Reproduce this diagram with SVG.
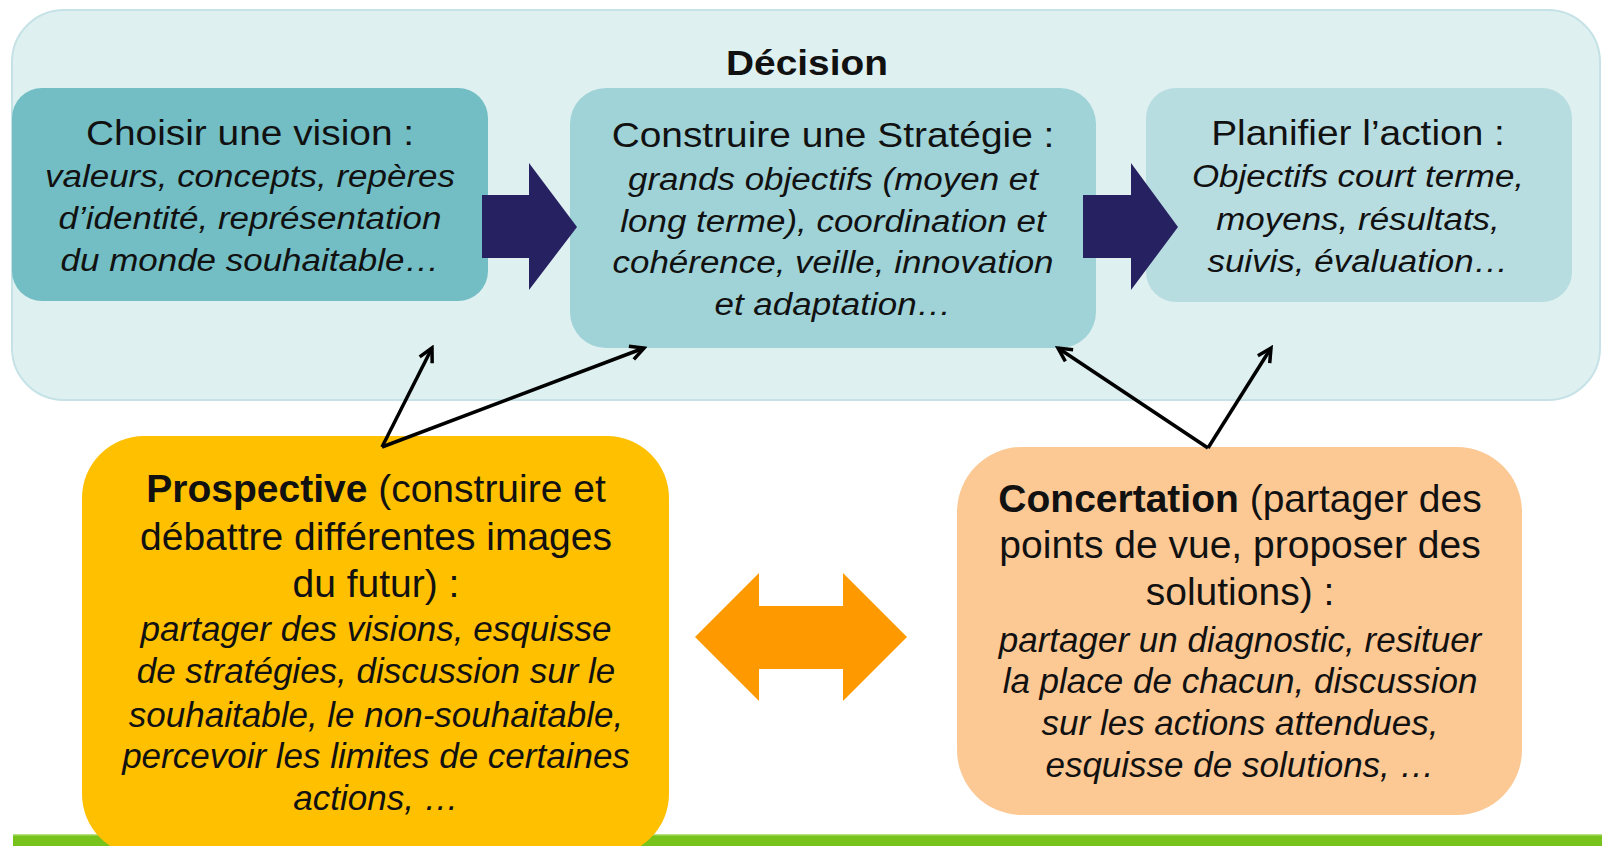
<svg xmlns="http://www.w3.org/2000/svg" width="1602" height="846" viewBox="0 0 1602 846">
<defs>
<style>
.t{font-family:"Liberation Sans",Arial,sans-serif;fill:#111;text-anchor:middle}
.h{font-size:35px}
.i{font-size:31.5px;font-style:italic}
.bh{font-size:39px}
.bi{font-size:35px;font-style:italic}
.b{font-weight:bold}
.ln{stroke:#000;stroke-width:3.5;fill:none}
</style>
<marker id="ah" viewBox="0 0 18 18" markerWidth="18" markerHeight="18" markerUnits="userSpaceOnUse" refX="15" refY="9" orient="auto">
<path d="M1.5,2 L15,9 L1.5,16" fill="none" stroke="#000" stroke-width="3.5"/>
</marker>
</defs>
<rect width="1602" height="846" fill="#fff"/>
<rect id="greenbar" x="13" y="834" width="1589" height="12" fill="#77c21b"/>
<rect x="13" y="834" width="1589" height="1.5" fill="#b5df80"/>

<g id="decision">
<rect x="12" y="10" width="1588" height="390" rx="52" fill="#dff0f0" stroke="#c5e2e6" stroke-width="2"/>
<g transform="translate(807 0) scale(1.11 1)"><text class="t h b" x="0" y="75">Décision</text></g>
</g>

<g id="choisir">
<rect x="12" y="88" width="476" height="213" rx="30" fill="#72bec4"/>
<g transform="translate(250 0) scale(1.11 1)">
<text class="t h" x="0" y="145">Choisir une vision :</text>
<text class="t i" x="0" y="187">valeurs, concepts, repères</text>
<text class="t i" x="0" y="229">d’identité, représentation</text>
<text class="t i" x="0" y="271">du monde souhaitable…</text>
</g>
</g>

<g id="construire">
<rect x="570" y="88" width="526" height="260" rx="36" fill="#9fd3d7"/>
<g transform="translate(833 0) scale(1.11 1)">
<text class="t h" x="0" y="147">Construire une Stratégie :</text>
<text class="t i" x="0" y="190">grands objectifs (moyen et</text>
<text class="t i" x="0" y="232">long terme), coordination et</text>
<text class="t i" x="0" y="273">cohérence, veille, innovation</text>
<text class="t i" x="0" y="315">et adaptation…</text>
</g>
</g>

<g id="planifier">
<rect x="1146" y="88" width="426" height="214" rx="30" fill="#b8dde1"/>
<g transform="translate(1358 0) scale(1.11 1)">
<text class="t h" x="0" y="145">Planifier l’action :</text>
<text class="t i" x="0" y="187">Objectifs court terme,</text>
<text class="t i" x="0" y="230">moyens, résultats,</text>
<text class="t i" x="0" y="272">suivis, évaluation…</text>
</g>
</g>

<g id="prospective">
<rect x="82" y="436" width="587" height="420" rx="62" fill="#ffc000"/>
<text class="t bh" x="376" y="502"><tspan class="b">Prospective</tspan> (construire et</text>
<text class="t bh" x="376" y="550">débattre différentes images</text>
<text class="t bh" x="376" y="597">du futur) :</text>
<text class="t bi" x="376" y="641">partager des visions, esquisse</text>
<text class="t bi" x="376" y="683">de stratégies, discussion sur le</text>
<text class="t bi" x="376" y="727">souhaitable, le non-souhaitable,</text>
<text class="t bi" x="376" y="768">percevoir les limites de certaines</text>
<text class="t bi" x="376" y="810">actions, …</text>
</g>

<g id="concertation">
<rect x="957" y="447" width="565" height="368" rx="65" fill="#fcc995"/>
<text class="t bh" x="1240" y="512"><tspan class="b">Concertation</tspan> (partager des</text>
<text class="t bh" x="1240" y="558">points de vue, proposer des</text>
<text class="t bh" x="1240" y="605">solutions) :</text>
<text class="t bi" x="1240" y="652">partager un diagnostic, resituer</text>
<text class="t bi" x="1240" y="693">la place de chacun, discussion</text>
<text class="t bi" x="1240" y="735">sur les actions attendues,</text>
<text class="t bi" x="1240" y="777">esquisse de solutions, …</text>
</g>

<g id="connectors">
<polygon points="482,195 529,195 529,163 577,227 529,290 529,258 482,258" fill="#262262"/>
<polygon points="1083,195 1131,195 1131,163 1178,227 1131,290 1131,258 1083,258" fill="#262262"/>
<polygon points="695,637 759,573 759,606 843,606 843,573 907,637 843,701 843,669 759,669 759,701" fill="#fe9a00"/>
<line class="ln" x1="382" y1="447" x2="432" y2="348" marker-end="url(#ah)"/>
<line class="ln" x1="382" y1="447" x2="644" y2="348" marker-end="url(#ah)"/>
<line class="ln" x1="1208" y1="448" x2="1058" y2="348" marker-end="url(#ah)"/>
<line class="ln" x1="1208" y1="448" x2="1271" y2="348" marker-end="url(#ah)"/>
</g>
</svg>
